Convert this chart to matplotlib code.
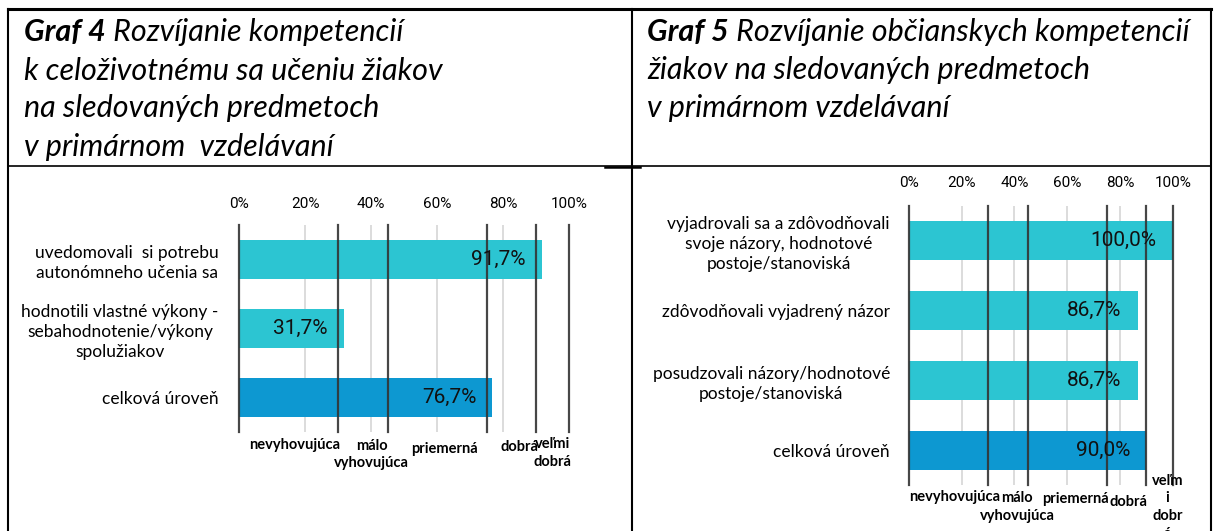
import matplotlib.pyplot as plt
from matplotlib.transforms import blended_transform_factory

W, H = 1215, 531

# Graf 4 data
cats4 = [
    "uvedomovali  si potrebu\nautonómneho učenia sa",
    "hodnotili vlastné výkony -\nsebahodnotenie/výkony\nspolužiakov",
    "celková úroveň",
]
vals4 = [91.7, 31.7, 76.7]

# Graf 5 data
cats5 = [
    "vyjadrovali sa a zdôvodňovali\nsvoje názory, hodnotové\npostoje/stanoviská",
    "zdôvodňovali vyjadrený názor",
    "posudzovali názory/hodnotové\npostoje/stanoviská",
    "celková úroveň",
]
vals5 = [100.0, 86.7, 86.7, 90.0]

ticks = [0, 20, 40, 60, 80, 100]
tick_labels = ["0%", "20%", "40%", "60%", "80%", "100%"]
thresholds = [0, 30, 45, 75, 90, 100]
bands4 = ["nevyhovujúca", "málo\nvyhovujúca", "priemerná", "dobrá", "veľmi\ndobrá"]
bands5 = ["nevyhovujúca", "málo\nvyhovujúca", "priemerná", "dobrá", "veľm\ni\ndobr\ná"]

title4 = ["Graf 4", " Rozvíjanie kompetencií", "k celoživotnému sa učeniu žiakov",
          "na sledovaných predmetoch", "v primárnom  vzdelávaní"]
title5 = ["Graf 5", " Rozvíjanie občianskych kompetencií", "žiakov na sledovaných predmetoch",
          "v primárnom vzdelávaní"]

LIGHT = "#2cc5d2"
DARK = "#0d98d1"
SANS = ["Lato", "DejaVu Sans"]
NUM = ["Roboto", "DejaVu Sans"]

fig = plt.figure(figsize=(W / 100, H / 100), dpi=100)
bg = fig.add_axes([0, 0, 1, 1])
bg.set_xlim(0, W)
bg.set_ylim(H, 0)
bg.axis("off")

# table borders
bg.plot([8, 1211], [9, 9], color="black", lw=2.2)
bg.plot([8, 1211], [166, 166], color="black", lw=1.2)
bg.plot([605, 640], [166.5, 166.5], color="black", lw=1.8)
for x in [8, 632, 1211]:
    bg.plot([x, x], [9, H], color="black", lw=1.5)


def title_block(x, lines):
    ys = [41.5, 79.5, 117.5, 156]
    fs = 22
    t1 = bg.text(x, ys[0], lines[0], fontsize=fs, family=SANS, style="italic",
                 weight="bold", va="baseline", ha="left")
    bg.annotate(lines[1], xy=(1, 0), xycoords=t1, fontsize=fs, family=SANS,
                style="italic", va="bottom", ha="left")
    for y, s in zip(ys[1:], lines[2:]):
        bg.text(x, y, s, fontsize=fs, family=SANS, style="italic", va="baseline", ha="left")


title_block(24, title4)
title_block(647, title5)


def chart(rect, cats, vals, bands, band_pos, tick_pad, lab_pad):
    ax = fig.add_axes(rect)
    n = len(cats)
    colors = [LIGHT] * (n - 1) + [DARK]
    ypos = list(range(n))
    ax.barh(ypos, vals, height=0.56, color=colors, zorder=2)
    ax.set_xlim(0, 100)
    ax.set_ylim(n - 0.5, -0.5)
    for s in ax.spines.values():
        s.set_visible(False)
    for t in ticks[1:-1]:
        ax.axvline(t, color="#d9d9d9", lw=1.3, zorder=1)
    for t in thresholds:
        ax.axvline(t, color="#333333", lw=1.6, alpha=0.9, zorder=3, clip_on=False)
    ax.xaxis.tick_top()
    ax.set_xticks(ticks)
    ax.set_xticklabels(tick_labels, family=NUM, fontsize=11)
    ax.tick_params(axis="x", length=0, pad=tick_pad)
    ax.set_yticks(ypos)
    ax.set_yticklabels(cats, family=SANS, fontsize=12.5, multialignment="center",
                       linespacing=1.3)
    ax.tick_params(axis="y", length=0, pad=lab_pad)
    for y, v in zip(ypos, vals):
        ax.annotate(f"{v:.1f}%".replace(".", ","), xy=(v, y), xytext=(-16, 0),
                    textcoords="offset pixels", ha="right", va="center",
                    family=NUM, fontsize=15, color="#111111", zorder=4)
    tr = blended_transform_factory(ax.transData, ax.transAxes)
    for s, (bx, dy) in zip(bands, band_pos):
        ax.annotate(s, xy=(bx, 0), xycoords=tr, xytext=(0, -dy), textcoords="offset pixels",
                    ha="center", va="center", family=SANS, weight="bold", fontsize=10.5,
                    linespacing=1.35, annotation_clip=False)
    return ax


chart([239 / W, 1 - 432 / H, 330.3 / W, 207 / H], cats4, vals4, bands4,
      [(16.8, 13), (40.2, 22.5), (62.1, 17), (84.8, 15), (94.8, 20.7)], 10, 14.5)
chart([909 / W, 1 - 485 / H, 263.7 / W, 279.3 / H], cats5, vals5, bands5,
      [(17.4, 12.3), (41.1, 22), (63, 14.3), (83.3, 16.7), (98, 22.3)], 11.5, 13.7)

fig.savefig("out.png", dpi=100)
